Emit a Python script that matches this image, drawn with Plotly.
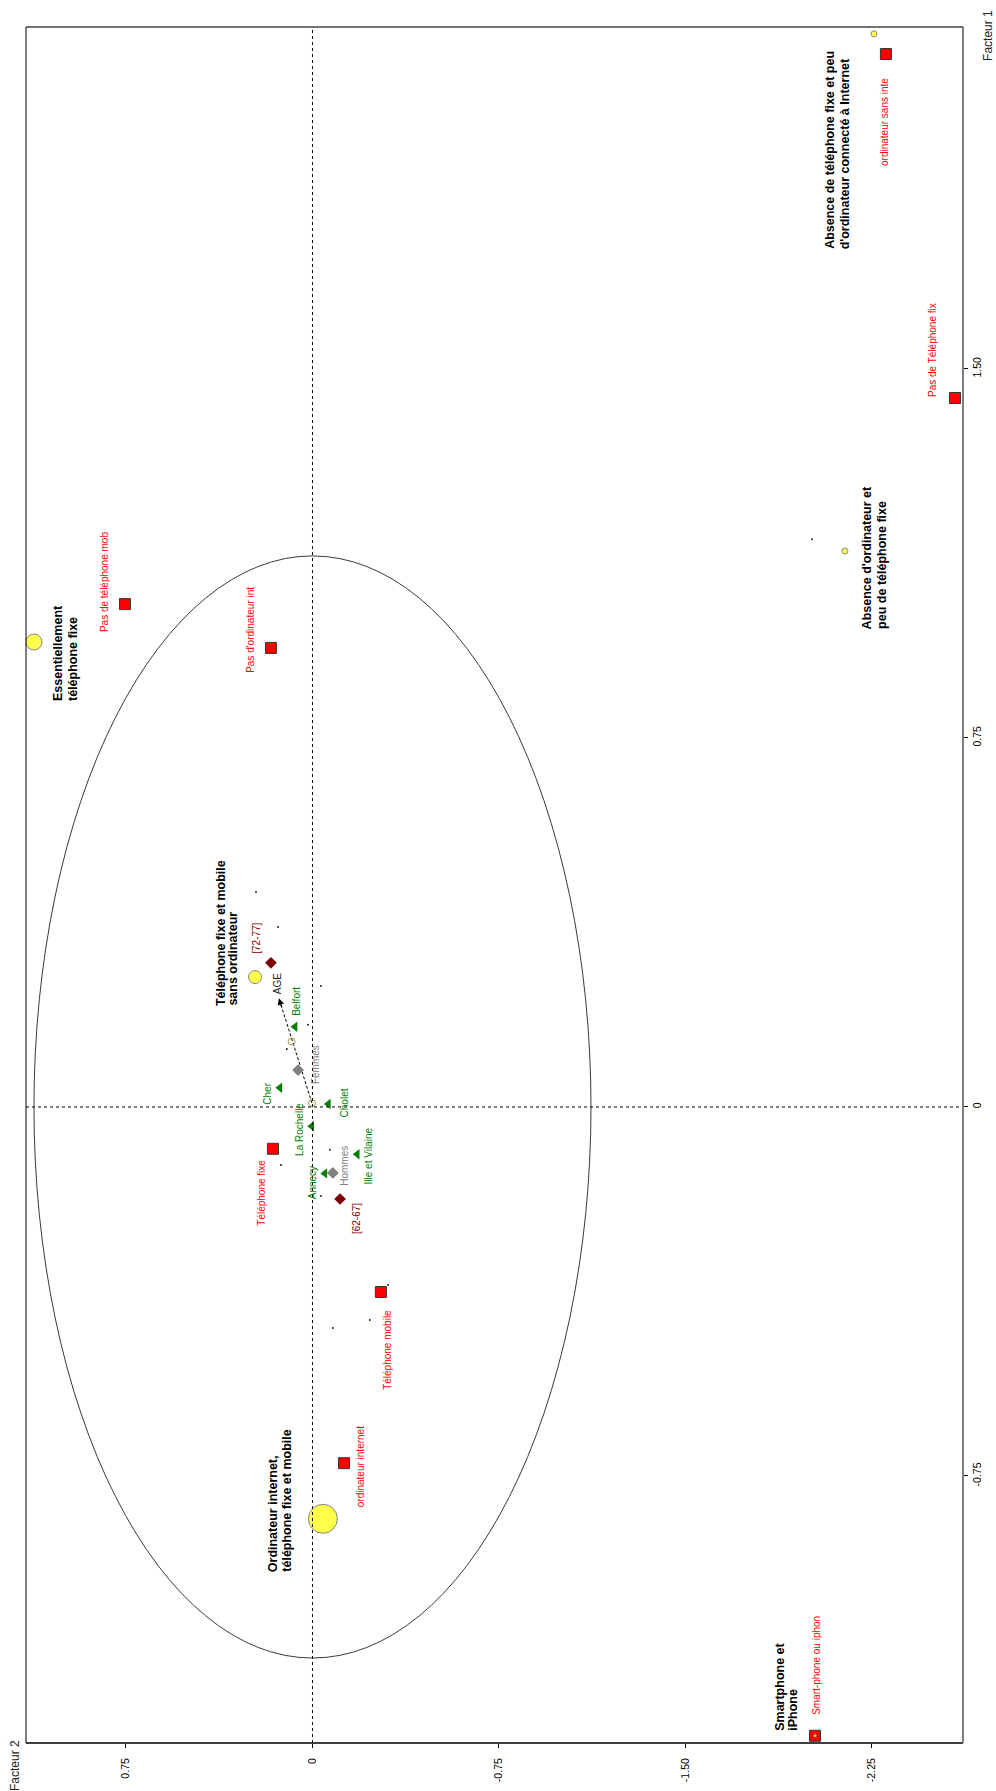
import plotly.graph_objects as go

# ---------------- DATA ----------------
# Active categories (red squares): Facteur 2 (horizontal, reversed) / Facteur 1 (vertical)
cat_labels = ["Pas de téléphone mob", "Pas d'ordinateur int", "Téléphone fixe", "Téléphone mobile",
              "ordinateur internet", "Smart-phone ou iphon", "Pas de Téléphone fix", "ordinateur sans inte"]
cat_f2 = [0.754, 0.167, 0.159, -0.275, -0.127, -2.021, -2.584, -2.306]
cat_f1 = [1.022, 0.933, -0.085, -0.376, -0.724, -1.278, 1.441, 2.140]

# Classes (yellow circles)
grp_labels = [["Essentiellement", "téléphone fixe"],
              ["Téléphone fixe et mobile", "sans ordinateur"],
              ["Ordinateur internet,", "téléphone fixe et mobile"],
              ["Smartphone et", "iPhone"],
              ["Absence d'ordinateur et", "peu de téléphone fixe"],
              ["Absence de téléphone fixe et peu", "d'ordinateur connecté à Internet"]]
grp_f2 = [1.120, 0.231, -0.042, -2.021, -2.141, -2.258]
grp_f1 = [0.945, 0.264, -0.837, -1.278, 1.130, 2.181]

# Supplementary: cities (green triangles)
city_labels = ["Belfort", "Cher", "Cholet", "La Rochelle", "Ille et Vilaine", "Annecy"]
city_f2 = [0.070, 0.131, -0.064, 0.003, -0.180, -0.050]
city_f1 = [0.163, 0.039, 0.006, -0.039, -0.096, -0.135]

# Supplementary: age classes (dark red diamonds)
age_labels = ["[72-77]", "[62-67]"]
age_f2 = [0.167, -0.111]
age_f1 = [0.293, -0.187]

# Supplementary: sex (grey diamonds)
sex_labels = ["Femmes", "Hommes"]
sex_f2 = [0.058, -0.082]
sex_f1 = [0.075, -0.134]

# Continuous supplementary variable AGE (arrow) and its mean points
age_axis_f2 = [0.002, 0.135]
age_axis_f1 = [0.008, 0.221]
mean_f2 = [0.084, 0.002]
mean_f1 = [0.133, 0.008]

# Individuals (tiny dots)
dot_f2 = [0.227, 0.139, -0.034, 0.018, 0.103, 0.127, -0.070, -0.034, -0.082, -0.231, -0.304, -2.009]
dot_f1 = [0.437, 0.366, 0.246, 0.167, 0.118, -0.118, -0.087, -0.181, -0.449, -0.433, -0.362, 1.154]

x_ticks = [0.75, 0, -0.75, -1.5, -2.25]
x_ticktext = ["0.75", "0", "-0.75", "-1.50", "-2.25"]
y_ticks = [1.5, 0.75, 0, -0.75]
y_ticktext = ["1.50", "0.75", "0", "-0.75"]

# ---------------- STYLE / LAYOUT ----------------
FONT = "Liberation Sans, Arial, sans-serif"
X_RANGE = [1.152, -2.616]
Y_RANGE = [-1.2927, 2.195]
CIRCLE_R = 1.12

grp_size = [16, 13, 29, 4, 6, 6]
# label offsets in pixels (dx right, dy down)
cat_off = [(-21, -23), (-20, -18), (-11, 44), (7, 58), (16, 4), (2, -70), (-22, -48), (-2, 68)]
grp_off = [(24, 60), (-34, 30), (-50, 54), (-35, -4), (22, 79), (-44, 216)]  # first line x, text start
grp_linesp = [15, 12.5, 14, 13, 15, 15]
city_off = [(2, -25), (-12, 6), (16, -1), (-13, 3), (11, 2), (-13, 9)]
age_off = [(-14, -25), (17, 20)]
sex_off = [(17, -5), (12, -7)]

fig = go.Figure()

# circle of correlations
fig.add_shape(type="circle", xref="x", yref="y", x0=-CIRCLE_R, x1=CIRCLE_R, y0=-CIRCLE_R, y1=CIRCLE_R,
              line=dict(color="#3a3a3a", width=1))
# dashed axes
fig.add_shape(type="line", xref="x", yref="paper", x0=0, x1=0, y0=0, y1=1,
              line=dict(color="black", width=1, dash="3px,3px"))
fig.add_shape(type="line", xref="paper", yref="y", x0=0, x1=1, y0=0, y1=0,
              line=dict(color="black", width=1, dash="3px,3px"))
# frame
fig.add_shape(type="line", xref="paper", yref="paper", x0=0, x1=0, y0=0, y1=1, line=dict(color="black", width=1))
fig.add_shape(type="line", xref="paper", yref="paper", x0=0, x1=1, y0=0, y1=0, line=dict(color="black", width=1.5))
fig.add_shape(type="line", xref="paper", yref="paper", x0=1, x1=1, y0=0, y1=1, line=dict(color="#7f7f7f", width=2))
fig.add_shape(type="line", xref="paper", yref="paper", x0=0, x1=1, y0=1, y1=1, line=dict(color="#444444", width=1.5))

# tiny dots
fig.add_trace(go.Scatter(x=dot_f2, y=dot_f1, mode="markers",
                         marker=dict(size=2, color="#222222"), hoverinfo="skip"))
# AGE dashed arrow
fig.add_trace(go.Scatter(x=age_axis_f2, y=age_axis_f1, mode="lines",
                         line=dict(color="black", width=1, dash="3px,2px"), hoverinfo="skip"))
fig.add_annotation(x=age_axis_f2[1], y=age_axis_f1[1], xref="x", yref="y",
                   ax=age_axis_f2[0] + 0.9 * (age_axis_f2[1] - age_axis_f2[0]),
                   ay=age_axis_f1[0] + 0.9 * (age_axis_f1[1] - age_axis_f1[0]),
                   axref="x", ayref="y", showarrow=True, arrowhead=2, arrowsize=1.1,
                   arrowwidth=1.2, arrowcolor="black", text="")
fig.add_annotation(x=age_axis_f2[1], y=age_axis_f1[1], xref="x", yref="y", text="AGE",
                   showarrow=False, textangle=-90, xshift=-2, yshift=15,
                   font=dict(family=FONT, size=10, color="#222222"))
# mean points (hollow)
fig.add_trace(go.Scatter(x=mean_f2, y=mean_f1, mode="markers",
                         marker=dict(size=7, symbol="circle-open", color="#a59a3a", line=dict(width=1)),
                         hoverinfo="skip"))
# cities
fig.add_trace(go.Scatter(x=city_f2, y=city_f1, mode="markers",
                         marker=dict(size=9, symbol="triangle-left", color="#008000", line=dict(width=0)),
                         hoverinfo="skip"))
# sex
fig.add_trace(go.Scatter(x=sex_f2, y=sex_f1, mode="markers",
                         marker=dict(size=9, symbol="diamond", color="#808080", line=dict(width=0)),
                         hoverinfo="skip"))
# age classes
fig.add_trace(go.Scatter(x=age_f2, y=age_f1, mode="markers",
                         marker=dict(size=9, symbol="diamond", color="#800000", line=dict(width=0)),
                         hoverinfo="skip"))
# active categories
fig.add_trace(go.Scatter(x=cat_f2, y=cat_f1, mode="markers",
                         marker=dict(size=11, symbol="square", color="#ff0000",
                                     line=dict(color="#333333", width=1)),
                         hoverinfo="skip"))
# classes
fig.add_trace(go.Scatter(x=grp_f2, y=grp_f1, mode="markers",
                         marker=dict(size=grp_size, symbol="circle", color="#ffff00",
                                     line=dict(color="#555555", width=1)),
                         hoverinfo="skip"))


def label(x, y, text, dx, dy, color, size=10, bold=False, xanchor="center", yanchor="middle"):
    fig.add_annotation(x=x, y=y, xref="x", yref="y", text=("<b>%s</b>" % text) if bold else text,
                       showarrow=False, textangle=-90, xshift=dx, yshift=-dy,
                       xanchor=xanchor, yanchor=yanchor, borderpad=0,
                       font=dict(family=FONT, size=size, color=color))


for t, x, y, (dx, dy) in zip(cat_labels, cat_f2, cat_f1, cat_off):
    label(x, y, t, dx, dy, "#ff0000")
for t, x, y, (dx, dy) in zip(city_labels, city_f2, city_f1, city_off):
    label(x, y, t, dx, dy, "#008000")
for t, x, y, (dx, dy) in zip(age_labels, age_f2, age_f1, age_off):
    label(x, y, t, dx, dy, "#800000")
for t, x, y, (dx, dy) in zip(sex_labels, sex_f2, sex_f1, sex_off):
    label(x, y, t, dx, dy, "#808080")
for lines, x, y, (dx, dy), sp in zip(grp_labels, grp_f2, grp_f1, grp_off, grp_linesp):
    for i, ln in enumerate(lines):
        label(x, y, ln, dx + i * sp, dy, "black", size=12.5, bold=True, yanchor="bottom")

# axis titles
fig.add_annotation(x=1.0267, y=0.9948, xref="paper", yref="paper", text="Facteur 1", showarrow=False,
                   textangle=-90, xanchor="center", yanchor="middle",
                   font=dict(family=FONT, size=12, color="#222222"))
fig.add_annotation(x=-0.0117, y=-0.0134, xref="paper", yref="paper", text="Facteur 2", showarrow=False,
                   textangle=-90, xanchor="center", yanchor="middle",
                   font=dict(family=FONT, size=12, color="#222222"))

axis_common = dict(showgrid=False, zeroline=False, showline=False, ticks="outside", ticklen=4,
                   tickcolor="black", tickwidth=1, tickangle=-90, automargin=False,
                   tickfont=dict(family=FONT, size=10.5, color="black"))
fig.update_layout(
    width=996, height=1791,
    margin=dict(l=26, r=33, t=27, b=48, pad=0),
    paper_bgcolor="white", plot_bgcolor="white", showlegend=False,
    xaxis=dict(range=X_RANGE, tickvals=x_ticks, ticktext=x_ticktext, ticklabelstandoff=6, **axis_common),
    yaxis=dict(range=Y_RANGE, tickvals=y_ticks, ticktext=y_ticktext, side="right", **axis_common),
)

fig.write_html("out.html", config={"displayModeBar": False},
               post_script="document.body.style.margin='0';document.body.style.overflow='hidden';")
